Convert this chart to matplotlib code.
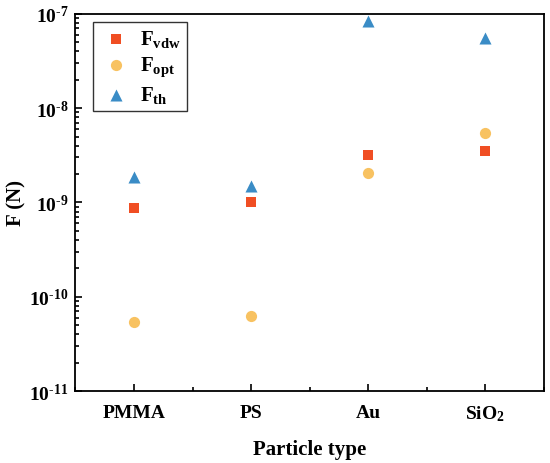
import matplotlib
matplotlib.use("Agg")
import matplotlib.pyplot as plt
from matplotlib.ticker import LogLocator, NullFormatter, AutoMinorLocator, FuncFormatter
import numpy as np

plt.rcParams['font.family'] = ['Liberation Serif', 'DejaVu Serif']
plt.rcParams['font.weight'] = 'bold'
plt.rcParams['mathtext.fontset'] = 'custom'
plt.rcParams['mathtext.rm'] = 'Liberation Serif:bold'
plt.rcParams['mathtext.bf'] = 'Liberation Serif:bold'
plt.rcParams['mathtext.it'] = 'Liberation Serif:bold'

particles = ["PMMA", "PS", "Au", r"SiO$_\mathbf{2}$"]
f_vdw = [0.87e-9, 1.0e-9, 3.15e-9, 3.5e-9]
f_opt = [5.4e-11, 6.2e-11, 2.05e-9, 5.4e-9]
f_th = [1.85e-9, 1.48e-9, 8.4e-8, 5.6e-8]

x = [1, 2, 3, 4]

fig = plt.figure(figsize=(5.5, 4.64), dpi=100)
ax = fig.add_axes([0.137, 0.155, 0.852, 0.813])

ax.scatter(x, f_vdw, marker='s', s=55, color='#F04E23', linewidths=0, label=r'F$_\mathbf{vdw}$')
ax.scatter(x, f_opt, marker='o', s=65, color='#F8C261', linewidths=0, label=r'F$_\mathbf{opt}$')
ax.scatter(x, f_th, marker='^', s=75, color='#3A8CC6', linewidths=0, label=r'F$_\mathbf{th}$')

ax.set_yscale('log')
ax.set_ylim(1e-11, 1e-7)
ax.set_xlim(0.5, 4.5)
ax.set_xticks(x)
ax.set_xticklabels(particles)
ax.xaxis.set_minor_locator(AutoMinorLocator(2))
ax.yaxis.set_major_locator(LogLocator(base=10, numticks=10))
ax.yaxis.set_minor_locator(LogLocator(base=10, subs=range(2, 10), numticks=20))
ax.yaxis.set_minor_formatter(NullFormatter())
ax.yaxis.set_major_formatter(FuncFormatter(
    lambda v, p: r'10$^{\text{-%d}}$' % abs(int(round(np.log10(v))))))

ax.tick_params(which='both', direction='in', labelsize=14, width=1.2)
ax.tick_params(which='major', length=5)
ax.tick_params(which='minor', length=3)
ax.tick_params(axis='x', pad=9)
ax.tick_params(axis='y', pad=5)
for sp in ax.spines.values():
    sp.set_linewidth(1.3)

ax.set_xlabel('Particle type', fontsize=15, fontweight='bold', labelpad=11)
ax.set_ylabel('F (N)', fontsize=15, fontweight='bold', labelpad=2)

leg = ax.legend(loc='upper left', bbox_to_anchor=(0.038, 0.979), fontsize=15,
                fancybox=False, edgecolor='#333333', framealpha=1,
                handletextpad=0.35, borderpad=0.3, labelspacing=0.28,
                handlelength=1.6, borderaxespad=0)
leg.get_frame().set_linewidth(1.0)

fig.savefig('out.png', dpi=100)
